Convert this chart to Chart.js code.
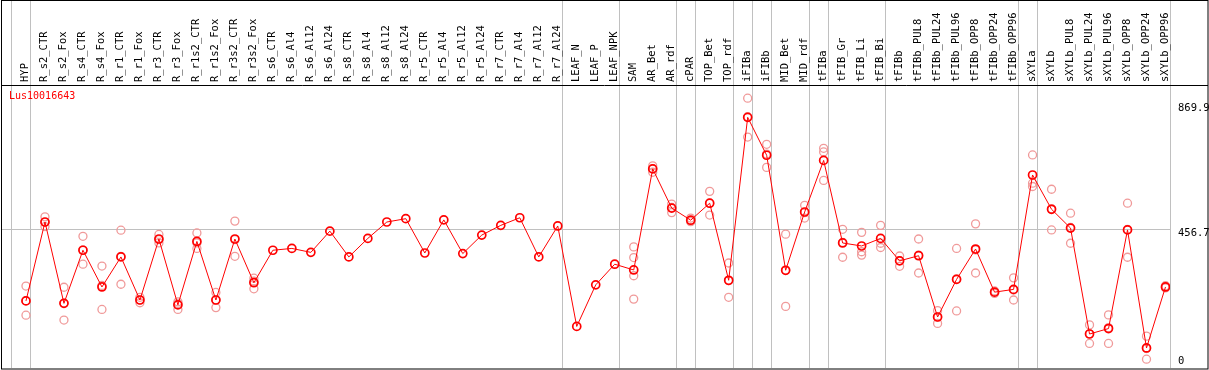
<!DOCTYPE html>
<html>
<head>
<meta charset="utf-8">
<script src="https://cdn.jsdelivr.net/npm/chart.js@4.4.1/dist/chart.umd.min.js"></script>
<style>
  html, body { margin: 0; padding: 0; background: #fff; }
  #wrap { width: 1209px; height: 370px; }
</style>
</head>
<body>
<div id="wrap"><canvas id="chart"></canvas></div>
<script>
const geneName = 'Lus10016643';

const categories = [
    'HYP', 'R_s2_CTR', 'R_s2_Fox', 'R_s4_CTR', 'R_s4_Fox', 'R_r1_CTR', 'R_r1_Fox',
    'R_r3_CTR', 'R_r3_Fox', 'R_r1s2_CTR', 'R_r1s2_Fox', 'R_r3s2_CTR', 'R_r3s2_Fox',
    'R_s6_CTR', 'R_s6_Al4', 'R_s6_Al12', 'R_s6_Al24', 'R_s8_CTR', 'R_s8_Al4',
    'R_s8_Al12', 'R_s8_Al24', 'R_r5_CTR', 'R_r5_Al4', 'R_r5_Al12', 'R_r5_Al24',
    'R_r7_CTR', 'R_r7_Al4', 'R_r7_Al12', 'R_r7_Al24', 'LEAF_N', 'LEAF_P', 'LEAF_NPK',
    'SAM', 'AR_Bet', 'AR_rdf', 'cPAR', 'TOP_Bet', 'TOP_rdf', 'iFIBa', 'iFIBb',
    'MID_Bet', 'MID_rdf', 'tFIBa', 'tFIB_Gr', 'tFIB_Li', 'tFIB_Bi', 'tFIBb',
    'tFIBb_PUL8', 'tFIBb_PUL24', 'tFIBb_PUL96', 'tFIBb_OPP8', 'tFIBb_OPP24', 'tFIBb_OPP96',
    'sXYLa', 'sXYLb', 'sXYLb_PUL8', 'sXYLb_PUL24', 'sXYLb_PUL96', 'sXYLb_OPP8',
    'sXYLb_OPP24', 'sXYLb_OPP96'
];

// mean per sample
const means = [
    221, 481, 213, 388, 267, 366, 224, 425, 208, 417, 224, 425, 281,
    388, 394, 381, 451, 366, 427, 481, 492, 379, 488, 377, 438,
    470, 495, 366, 468, 137, 274, 342,
    323, 656, 527, 487, 543, 289, 826, 701, 322, 514,
    684, 412, 402, 427, 353, 370, 168, 292, 392, 250, 259,
    636, 523, 461, 112, 130, 455, 66, 267
];

// replicates (null = none shown)
const rep1 = [
    270, 498, 266, 434, 336, 454, 233, 440, 218, 445, 249, 484, 296,
    null, null, null, null, null, null, null, null, null, null, null, null,
    null, null, null, null, null, null, null,
    399, 666, 540, 494, 582, 346, 889, 737, 441, 536,
    724, 457, 447, 470, 369, 425, 189, 394, 475, 254, 297,
    702, 589, 510, 142, 175, 543, 105, 271
];
const rep2 = [
    222, 480, 214, 389, 272, 368, 224, 423, 212, 412, 224, 423, 286,
    null, null, null, null, null, null, null, null, null, null, null, null,
    null, null, null, null, null, null, null,
    364, 657, 529, 484, 543, 288, 828, 705, 322, 512,
    712, 414, 383, 411, 354, 372, 168, 294, 389, 250, 257,
    609, 525, 463, 113, 133, 457, 64, 266
];
const rep3 = [
    174, 466, 158, 342, 193, 276, 215, 412, 193, 394, 199, 368, 261,
    null, null, null, null, null, null, null, null, null, null, null, null,
    null, null, null, null, null, null, null,
    304, 645, 512, 482, 504, 233, 761, 661, 203, 494,
    618, 365, 372, 397, 335, 313, 147, 188, 313, 246, 224,
    598, 455, 411, 81, 81, 365, 29, 264
];
const rep4 = [];
rep4[32] = 227;   // SAM has a fourth replicate

// sample group boundaries (index of first sample in each group)
const groupBreaks = [0, 1, 29, 32, 35, 36, 38, 39, 40, 42, 43, 46, 53, 54, 61];
const yTicks = [0, 456.7, 869.9];

const GRID = '#c0c0c0';
const RED = '#ff0000';
const PINK = '#f09a9a';
const MONO = "'DejaVu Sans Mono', monospace";

const xMin = -1.2625;
const xMax = 60.237;
const bandShift = 0.763;

const meanPoints = means.map((v, i) => ({x: i, y: v}));
const repPoints = [];
[rep1, rep2, rep3, rep4].forEach(rep => {
    rep.forEach((v, i) => {
        if (v !== null && v !== undefined) repPoints.push({x: i, y: v});
    });
});

const framePlugin = {
    id: 'frame',
    afterDraw(chart) {
        const ctx = chart.ctx;
        const area = chart.chartArea;
        const yScale = chart.scales.y;
        ctx.save();
        ctx.strokeStyle = '#000';
        ctx.lineWidth = 1;
        ctx.strokeRect(1.5, 0.5, chart.width - 2.5, chart.height - 1.5);
        ctx.beginPath();
        ctx.moveTo(1, area.top + 0.5);
        ctx.lineTo(chart.width - 1, area.top + 0.5);
        ctx.stroke();

        // gene name
        ctx.fillStyle = RED;
        ctx.font = '10px ' + MONO;
        ctx.textAlign = 'left';
        ctx.textBaseline = 'top';
        ctx.fillText(geneName, area.left + 7, area.top + 6);

        // y tick labels
        ctx.fillStyle = '#000';
        ctx.font = '10.5px ' + MONO;
        yTicks.forEach(v => {
            const py = yScale.getPixelForValue(v);
            if (v === 0) {
                ctx.textBaseline = 'bottom';
                ctx.fillText(String(v), area.right + 8, py - 1);
            } else {
                ctx.textBaseline = 'top';
                ctx.fillText(String(v), area.right + 8, py - 1);
            }
        });
        ctx.restore();
    }
};

function noSidePadding(axis) {
    axis.paddingLeft = 0;
    axis.paddingRight = 0;
}

new Chart(document.getElementById('chart'), {
    type: 'line',
    data: {
        datasets: [
            {
                label: 'mean',
                data: meanPoints,
                borderColor: RED,
                borderWidth: 1,
                pointRadius: 4,
                pointBorderWidth: 1.7,
                pointBorderColor: RED,
                pointBackgroundColor: 'rgba(0,0,0,0)',
                tension: 0
            },
            {
                label: 'replicates',
                type: 'scatter',
                data: repPoints,
                showLine: false,
                pointRadius: 4,
                pointBorderWidth: 1.3,
                pointBorderColor: PINK,
                pointBackgroundColor: 'rgba(0,0,0,0)'
            }
        ]
    },
    options: {
        responsive: true,
        maintainAspectRatio: false,
        animation: false,
        layout: {autoPadding: false, padding: {left: 2, top: 0, right: 0, bottom: 2}},
        plugins: {
            legend: {display: false},
            tooltip: {enabled: false},
            title: {display: false}
        },
        scales: {
            x: {
                type: 'linear',
                position: 'top',
                weight: 1,
                min: xMin,
                max: xMax,
                afterBuildTicks: axis => {
                    axis.ticks = categories.map((c, i) => ({value: i}));
                },
                afterFit: axis => {
                    axis.height = 85;
                    noSidePadding(axis);
                },
                grid: {display: false, drawTicks: false},
                border: {display: false},
                ticks: {
                    autoSkip: false,
                    minRotation: 90,
                    maxRotation: 90,
                    padding: 3,
                    labelOffset: 12,
                    color: '#000',
                    font: {family: MONO, size: 10.5},
                    callback: v => categories[v]
                }
            },
            xg: {
                type: 'linear',
                position: 'top',
                weight: 0,
                min: xMin,
                max: xMax,
                afterBuildTicks: axis => {
                    axis.ticks = groupBreaks.map(k => ({value: k - bandShift}));
                },
                afterFit: axis => {
                    axis.height = 0;
                    noSidePadding(axis);
                },
                grid: {color: GRID, lineWidth: 1, drawTicks: true, tickLength: 85},
                border: {display: false},
                ticks: {display: false}
            },
            y: {
                type: 'linear',
                position: 'right',
                min: 0,
                max: 932.5,
                afterBuildTicks: axis => {
                    axis.ticks = yTicks.map(v => ({value: v}));
                },
                afterFit: axis => { axis.width = 39; },
                grid: {
                    drawTicks: false,
                    color: c => (c.tick && c.tick.value === 456.7) ? GRID : 'rgba(0,0,0,0)'
                },
                border: {display: false},
                ticks: {display: false}
            }
        }
    },
    plugins: [framePlugin]
});
</script>
</body>
</html>
